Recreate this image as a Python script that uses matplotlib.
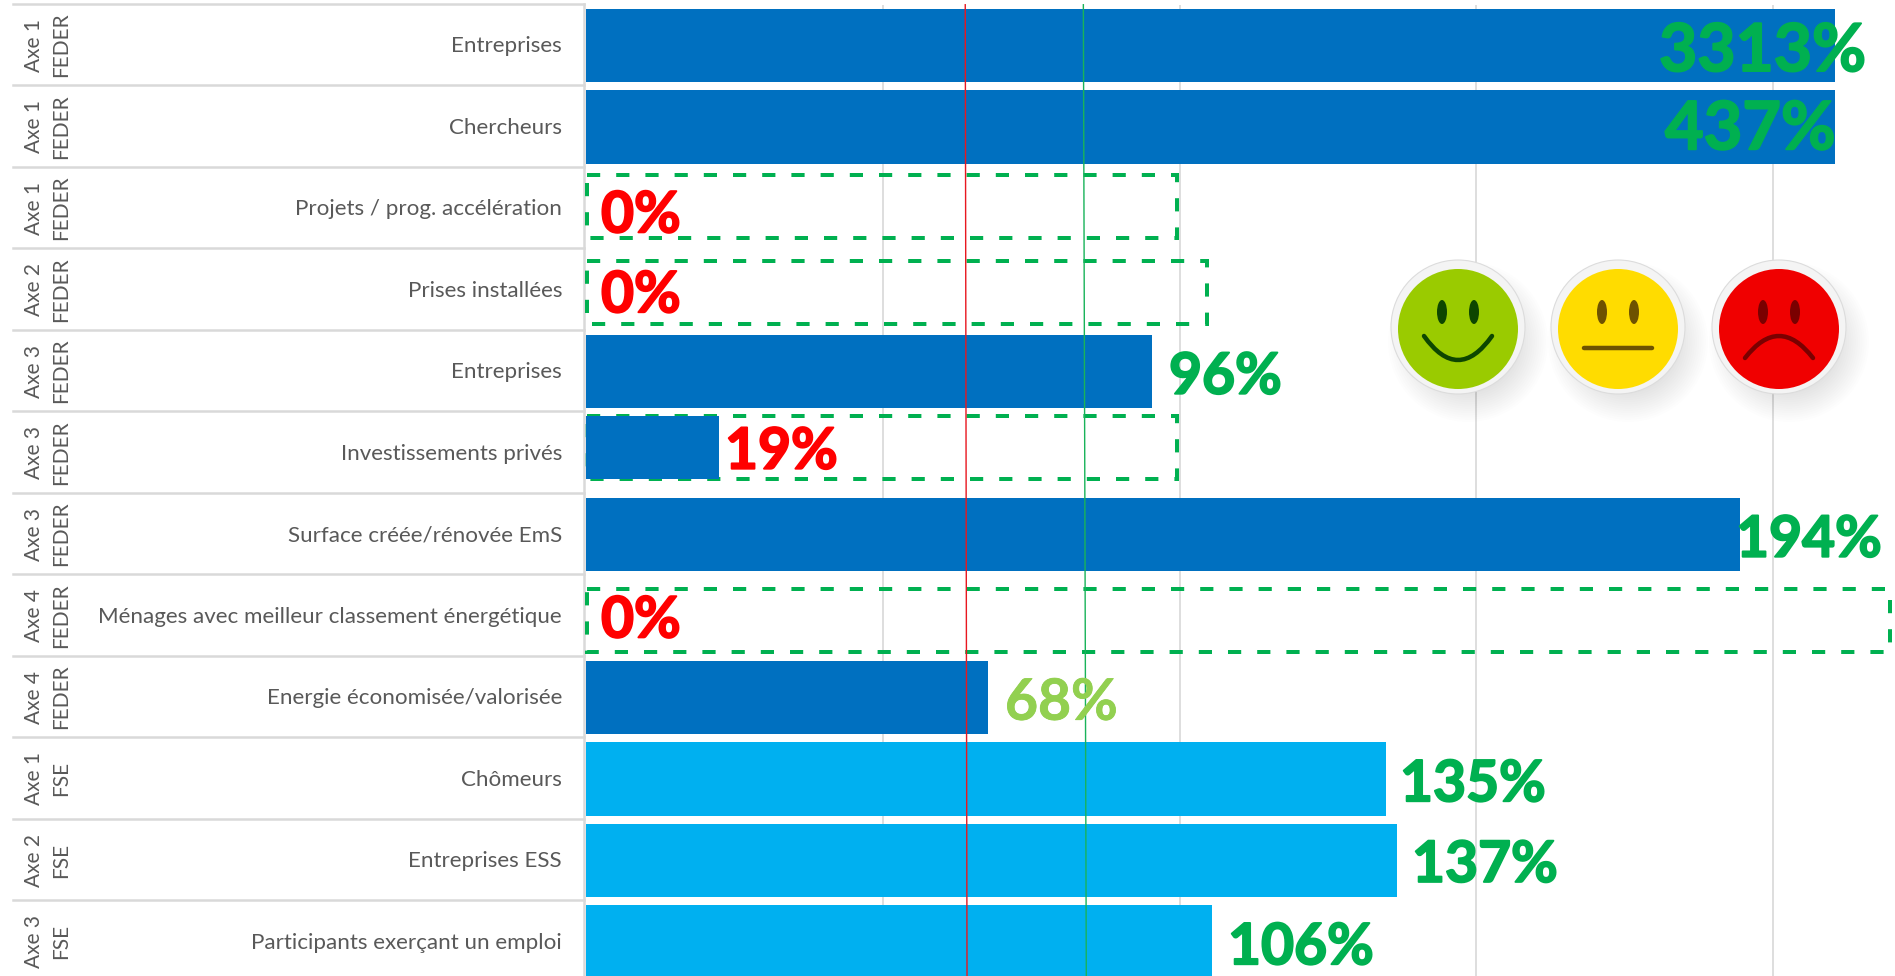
import numpy as np
import matplotlib
matplotlib.use('Agg')
import matplotlib.pyplot as plt
import matplotlib.patheffects as pe
from matplotlib.patches import Circle, Ellipse, PathPatch, Rectangle
from matplotlib.path import Path
from matplotlib.transforms import blended_transform_factory

plt.rcParams['font.family'] = ['Lato', 'DejaVu Sans']

# data
axes_labels = ['Axe 1', 'Axe 1', 'Axe 1', 'Axe 2', 'Axe 3', 'Axe 3', 'Axe 3', 'Axe 4', 'Axe 4', 'Axe 1', 'Axe 2', 'Axe 3']
funds = ['FEDER'] * 9 + ['FSE'] * 3
categories = ['Entreprises', 'Chercheurs', 'Projets / prog. accélération', 'Prises installées',
              'Entreprises', 'Investissements privés', 'Surface créée/rénovée EmS',
              'Ménages avec meilleur classement énergétique', 'Energie économisée/valorisée',
              'Chômeurs', 'Entreprises ESS', 'Participants exerçant un emploi']
values = [33.13, 4.37, 0, 0, 0.953, 0.224, 1.944, 0, 0.678, 1.348, 1.366, 1.055]
value_labels = ['3313%', '437%', '0%', '0%', '96%', '19%', '194%', '0%', '68%', '135%', '137%', '106%']
target_rows = [2, 3, 5, 7]
target_values = [0.996, 1.046, 0.996, 2.197]
red_line = [0.639, 0.642]
green_line = [0.838, 0.843]

W, H = 1895, 976
X0, X1 = 586, 1835
UNIT = 593.5      # px for 100%
PITCH = 81.5      # px per row
Y0 = 45.5         # px of first row centre

BLUE = '#0070c0'
CYAN = '#00b0f0'
GREEN = '#00b050'
RED = '#ff0000'
LIGHT = '#92d050'
GREY = '#d9d9d9'
TEXT = '#595959'


def px(n):
    return n * 72 / 100


fig = plt.figure(figsize=(W / 100, H / 100), dpi=100)
ax = fig.add_axes([X0 / W, 0, (X1 - X0) / W, 1])
ax.set_xlim(0, (X1 - X0) / UNIT)
ax.set_ylim((H - Y0) / PITCH, -Y0 / PITCH)
ax.axis('off')

rows = np.arange(len(categories))
left_tr = blended_transform_factory(fig.transFigure, ax.transData)

# gridlines
ax.vlines([0.5, 1, 1.5, 2], -0.5, 12, color='#dedede', lw=px(2), zorder=1)

# bars, the 19% one was resized by hand to fit its box
colors = [CYAN if f == 'FSE' else BLUE for f in funds]
bar_h = np.full(len(rows), 0.905)
bar_y = rows.astype(float)
bar_h[5] = 0.775
bar_y[5] -= 0.07
ax.barh(bar_y, values, height=bar_h, color=colors, zorder=2)

# targets (dashed boxes)
box_offset = [-0.02, 0.03, -0.07, 0.055]
for r, t, o in zip(target_rows, target_values, box_offset):
    ax.add_patch(Rectangle((0.002, r + o - 0.385), t - 0.002, 0.77, fill=False, ec=GREEN, lw=px(4),
                           ls=(0, (3.3, 4)), clip_on=False, zorder=1.9 if r == 5 else 3))

# milestone lines
ax.plot(red_line, [-0.5, 11.5], color='#e8171f', lw=px(1.4), zorder=4)
ax.plot(green_line, [-0.5, 11.5], color='#19b35a', lw=px(1.4), zorder=4)

# left table
for y in rows - 0.51:
    ax.plot([13 / W, 584 / W], [y, y], transform=left_tr, color=GREY, lw=px(2.5), clip_on=False)
ax.plot([584 / W, 584 / W], [-0.51, 12], transform=left_tr, color=GREY, lw=px(2.5), clip_on=False)

for r in rows:
    ax.text(562 / W, r + 0.012, categories[r], transform=left_tr, ha='right', va='center', fontsize=16.1, color=TEXT)
    ax.text(47.5 / W, r - 0.005, axes_labels[r] + '\n' + funds[r], transform=left_tr, rotation=90, ha='center',
            va='center', ma='center', fontsize=15, color=TEXT, linespacing=1.45)

# value labels
label_left = [1659, 1665, 601, 601, 1169, 725, 1736, 601, 1005, 1400, 1412, 1228]
label_dy = [0.08, 0.04, 0.09, 0.07, 0.07, -0.01, 0.07, 0.06, 0.07, 0.07, 0.06, 0.07]
label_size = [47.5, 48, 41, 41, 41, 41, 41, 41, 41, 41, 41, 41]
label_colors = [GREEN, GREEN, RED, RED, GREEN, RED, GREEN, RED, LIGHT, GREEN, GREEN, GREEN]
for r in rows:
    weight = 0.6 if label_colors[r] == LIGHT else 1.4
    ax.text((label_left[r] - X0) / UNIT, r + label_dy[r], value_labels[r], ha='left', va='center',
            fontsize=label_size[r], fontweight='bold', color=label_colors[r], zorder=5,
            path_effects=[pe.withStroke(linewidth=weight, foreground=label_colors[r])])

# smileys on a pixel overlay
ov = fig.add_axes([0, 0, 1, 1])
ov.set_xlim(0, W)
ov.set_ylim(H, 0)
ov.axis('off')
ov.patch.set_alpha(0)

face_cols = ['#9acb00', '#ffdc00', '#f00000']
dark_cols = ['#0d4600', '#6e5200', '#7a0000']
centres = [1458, 1618, 1779]
mouth_ctrl = [384, 348, 314]
mouth_end = [336, 348, 358]

for cx, fc, dc, ctrl, end in zip(centres, face_cols, dark_cols, mouth_ctrl, mouth_end):
    # soft shadow
    for k in range(14):
        ov.add_patch(Circle((cx + 10, 342), 80 - k * 2.2, fc='#000000', ec='none', alpha=0.008))
    ov.add_patch(Circle((cx, 327), 67, fc='#f4f4f4', ec='#dcdcdc', lw=0.8))
    ov.add_patch(Circle((cx, 329), 60, fc=fc, ec='none'))
    ov.add_patch(Ellipse((cx - 16, 312), 10, 24, fc=dc, ec='none'))
    ov.add_patch(Ellipse((cx + 16, 312), 10, 24, fc=dc, ec='none'))
    mouth = Path([(cx - 34, end), (cx, ctrl), (cx + 34, end)], [Path.MOVETO, Path.CURVE3, Path.CURVE3])
    ov.add_patch(PathPatch(mouth, fc='none', ec=dc, lw=px(4.5), capstyle='round'))

fig.savefig('out.png', dpi=100, facecolor='white')
